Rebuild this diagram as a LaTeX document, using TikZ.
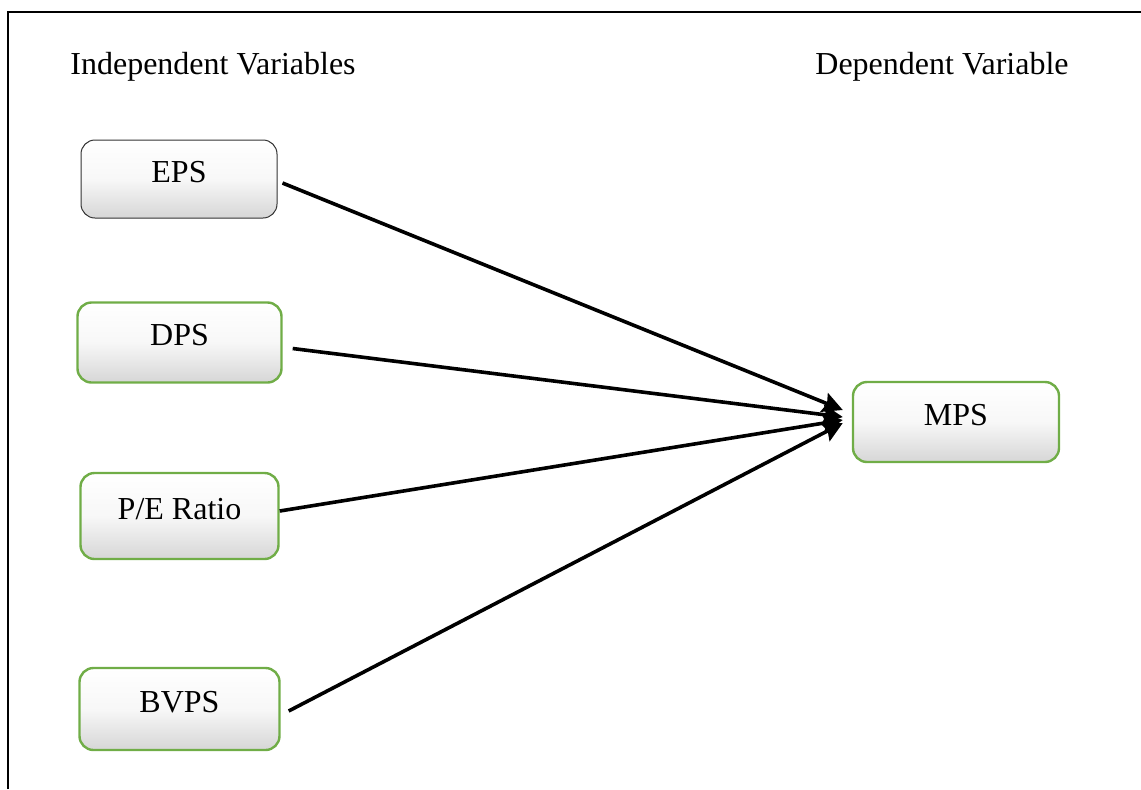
\documentclass[tikz,border=0pt]{standalone}
\usepackage{fontspec}
\setmainfont{Liberation Serif}
\usepackage{xcolor}
\usepackage{tikz}
\usetikzlibrary{arrows.meta,calc}

\definecolor{boxgreen}{HTML}{70AD47}

\begin{document}
\begin{tikzpicture}[x=0.5pt, y=-0.5pt, every node/.style={font=\fontsize{16}{19}\selectfont},
    varbox/.style={rounded corners=7pt, top color=white, bottom color=black!16, middle color=white!97!black,
        minimum width=100pt, minimum height=40pt, text height=10.6pt, text depth=7.5pt, inner sep=0pt},
    greenbox/.style={varbox, draw=boxgreen, line width=1.2pt},
    link/.style={-{Stealth[length=10pt, width=10pt, inset=1.5pt]}, line width=1.8pt}]
            \useasboundingbox (0,0) rectangle (1141,789);

            % Frame (left and top edges)
            \draw[line width=1pt] (8,789) -- (8,12) -- (1141,12);

            % Headings
            \node[anchor=base west, inner sep=0pt] (indep) at (70,74) {Independent Variables};
            \node[anchor=base west, inner sep=0pt] (dep) at (815,74) {Dependent Variable};

            % Independent variables
            \node[varbox, draw=black!80, line width=0.5pt, minimum width=98pt, minimum height=39pt] (eps) at (179,179) {EPS};
            \node[greenbox, minimum width=102pt] (dps) at (179.5,342.5) {DPS};
            \node[greenbox, minimum width=99pt, minimum height=43pt] (pe) at (179.5,516) {P/E Ratio};
            \node[greenbox, minimum height=41pt] (bvps) at (179.5,709) {BVPS};

            % Dependent variable
            \node[greenbox, minimum width=103pt] (mps) at (956,422) {MPS};

            % Links
            \draw[link] ($(eps.east)+(5,4)$) -- ($(mps.west)+(-9,-12)$);
            \draw[link] ($(dps.east)+(10,6)$) -- ($(mps.west)+(-9,-5)$);
            \draw[link] ($(pe.east)+(0,-5)$) -- ($(mps.west)+(-9,-2)$);
            \draw[link] ($(bvps.east)+(8,2)$) -- ($(mps.west)+(-9,1)$);

        \end{tikzpicture}
\end{document}
